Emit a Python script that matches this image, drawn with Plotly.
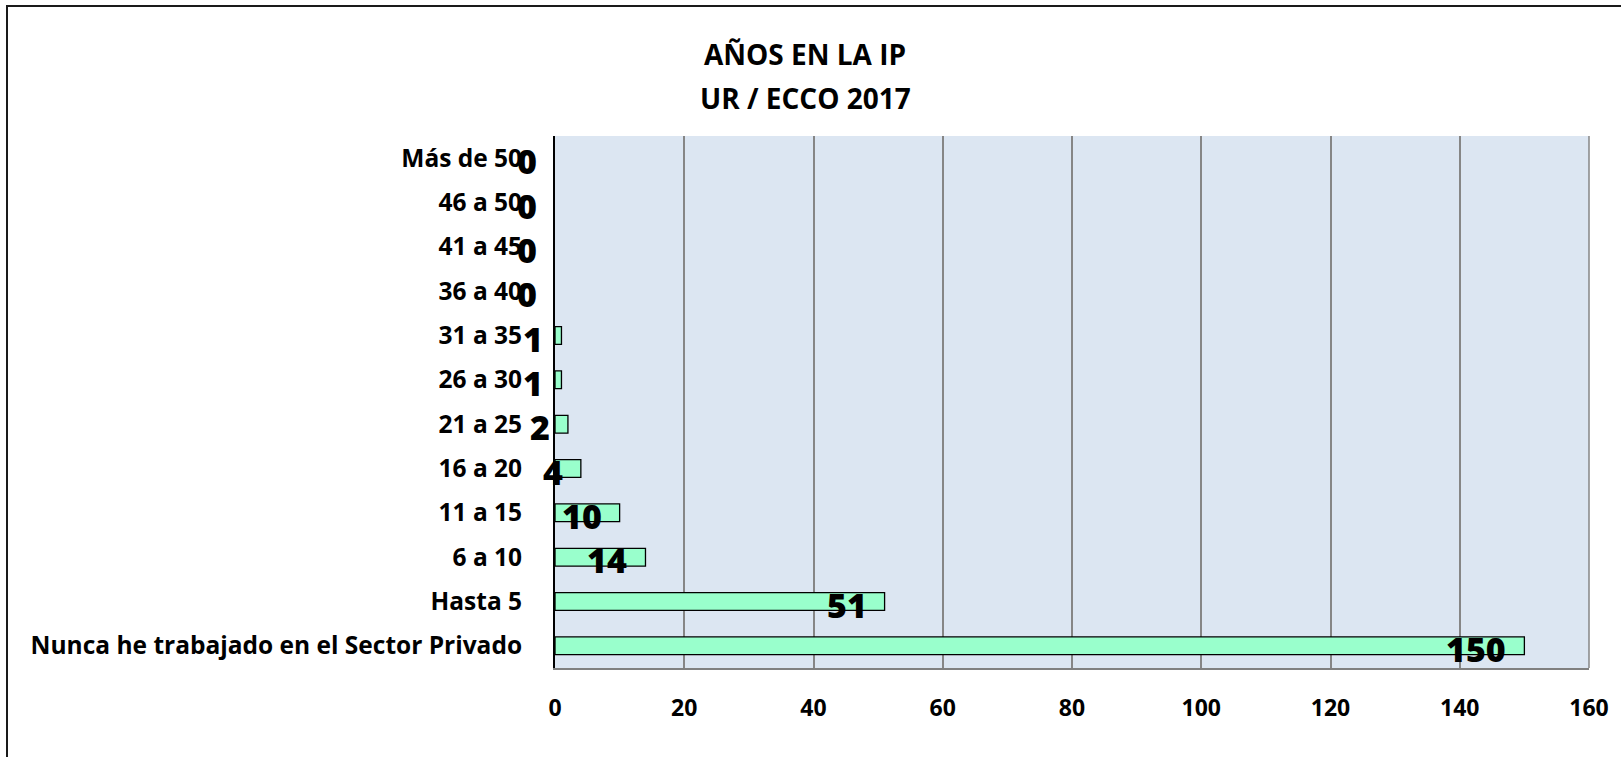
import plotly.graph_objects as go

# Years worked in the private sector (IP), bottom to top
categories = [
    "Nunca he trabajado en el Sector Privado",
    "Hasta 5",
    "6 a 10",
    "11 a 15",
    "16 a 20",
    "21 a 25",
    "26 a 30",
    "31 a 35",
    "36 a 40",
    "41 a 45",
    "46 a 50",
    "Más de 50",
]
counts = [150, 51, 14, 10, 4, 2, 1, 1, 0, 0, 0, 0]
x_ticks = [0, 20, 40, 60, 80, 100, 120, 140, 160]
title_lines = ["AÑOS EN LA IP", "UR / ECCO 2017"]

FONT = "Open Sans"

W, H = 1621, 757
L, R, T, B = 555, 32, 136, 89
PLOT_W, PLOT_H = W - L - R, H - T - B


def px_to_paper(px, py):
    """Convert figure pixel position to plot-area paper coordinates."""
    return (px - L) / PLOT_W, (H - B - py) / PLOT_H


fig = go.Figure(
    go.Bar(
        x=counts,
        y=categories,
        orientation="h",
        width=0.4,
        marker=dict(
            color="#99FFCC",
            # empty categories get no outline stub on the axis
            line=dict(color="#000000", width=[1.3 if v > 0 else 0 for v in counts]),
        ),
        hoverinfo="x+y",
    )
)

# Value labels sit just inside the end of each bar
for cat, val in zip(categories, counts):
    fig.add_annotation(
        x=val, y=cat, xref="x", yref="y",
        text=str(val), showarrow=False,
        xanchor="right", yanchor="middle",
        xshift=-16, yshift=-3,
        font=dict(family=FONT, size=34, color="#000000", weight=800),
    )

# Two-line chart title
for i, line in enumerate(title_lines):
    tx, ty = px_to_paper(805, 54 + 44 * i)
    fig.add_annotation(
        x=tx, y=ty, xref="paper", yref="paper",
        text=line, showarrow=False,
        xanchor="center", yanchor="middle",
        font=dict(family=FONT, size=28, color="#000000", weight="bold"),
    )

# Outer chart frame
fx0, fy1 = px_to_paper(7, 6)
fx1, fy0 = px_to_paper(W + 20, H + 20)
fig.add_shape(
    type="rect", xref="paper", yref="paper",
    x0=fx0, x1=fx1, y0=fy0, y1=fy1,
    line=dict(color="#1a1a1a", width=2), layer="below",
)
# Right edge of the plot area (gridline at the axis maximum)
fig.add_shape(
    type="line", xref="x domain", yref="y domain",
    x0=1, x1=1, y0=0, y1=1,
    line=dict(color="#868686", width=1.5), layer="below",
)

fig.update_layout(
    width=W, height=H,
    margin=dict(l=L, r=R, t=T, b=B),
    paper_bgcolor="#FFFFFF",
    plot_bgcolor="#DCE6F2",
    showlegend=False,
    xaxis=dict(
        range=[0, 160],
        tickvals=x_ticks,
        ticktext=[str(v) for v in x_ticks],
        showgrid=True, gridcolor="#868686", gridwidth=1.5,
        zeroline=False,
        showline=True, linecolor="#808080", linewidth=1.5,
        ticks="", ticklabelstandoff=19,
        tickfont=dict(family=FONT, size=23, color="#000000", weight="bold"),
        fixedrange=True,
    ),
    yaxis=dict(
        type="category",
        categoryorder="array", categoryarray=categories,
        range=[-0.5, len(categories) - 0.5],
        showgrid=False, zeroline=False,
        showline=True, linecolor="#000000", linewidth=2,
        ticks="", ticklabelstandoff=26,
        tickfont=dict(family=FONT, size=24.5, color="#000000", weight="bold"),
        fixedrange=True,
    ),
)

fig.write_html("out.html")
